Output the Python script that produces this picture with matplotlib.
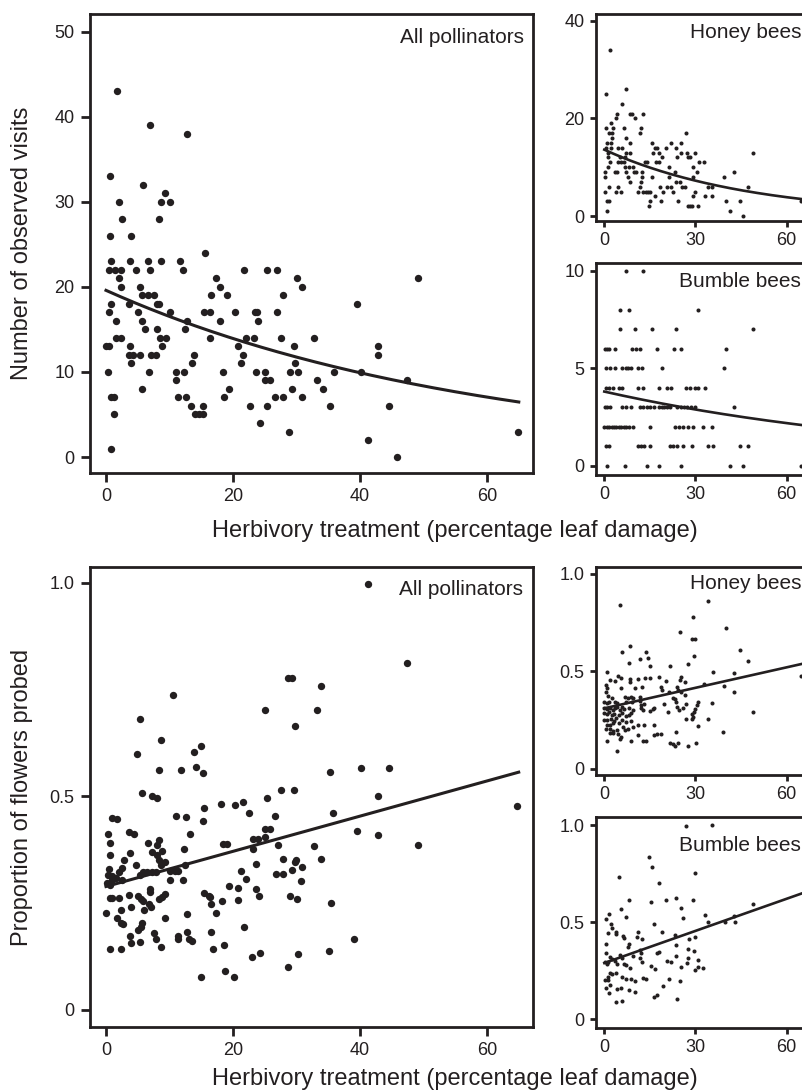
import numpy as np
import matplotlib
matplotlib.use("Agg")
import matplotlib.pyplot as plt

plt.rcParams['font.family'] = ['Liberation Sans', 'DejaVu Sans']

INK = '#231f20'

# ---------------- DATA ----------------
# Top-left: all pollinators, number of observed visits
visits_all_x = [1.8, 7.0, 12.8, 0.6, 5.8, 9.3, 2.0, 8.6, 10.0, 2.5, 8.3, 0.6, 4.0, 15.6,
                0.8, 3.8, 6.6, 8.6, 11.7,
                0.4, 1.4, 2.4, 4.7, 7.0, 12.1, 21.8, 25.4, 26.9,
                2.0, 17.3, 30.1, 49.1,
                2.3, 5.4, 18.0, 30.8,
                5.7, 6.6, 7.6, 16.5, 19.0, 27.8,
                0.8, 3.6, 8.0, 8.4, 39.6,
                0.5, 5.0, 10.0, 15.5, 16.4, 20.3, 23.4, 23.8, 27.0,
                1.6, 5.7, 12.8, 18.0, 24.0,
                6.1, 8.0, 12.4,
                1.6, 2.4, 8.5, 9.4, 16.3, 22.0, 23.3, 27.6, 32.8,
                0.0, 0.4, 3.8, 8.8, 20.8, 29.6, 42.8,
                3.6, 4.3, 5.3, 7.1, 7.9, 13.8, 21.5, 42.8,
                4.0, 13.5, 21.3, 29.8,
                0.3, 6.8, 11.0, 12.3, 18.4, 23.6, 25.1, 28.9, 30.2, 35.9, 40.1,
                11.0, 25.1, 25.8, 33.3, 47.4,
                5.7, 19.3, 29.3, 34.1,
                0.8, 1.3, 11.3, 12.6, 18.6, 26.6, 27.8, 30.8,
                13.4, 15.3, 22.6, 25.4, 35.3, 44.6,
                1.3, 14.0, 14.6, 15.2,
                24.3, 28.8, 64.8, 41.3, 0.8, 45.8]
visits_all_y = [43, 39, 38, 33, 32, 31, 30, 30, 30, 28, 28, 26, 26, 24,
                23, 23, 23, 23, 23,
                22, 22, 22, 22, 22, 22, 22, 22, 22,
                21, 21, 21, 21,
                20, 20, 20, 20,
                19, 19, 19, 19, 19, 19,
                18, 18, 18, 18, 18,
                17, 17, 17, 17, 17, 17, 17, 17, 17,
                16, 16, 16, 16, 16,
                15, 15, 15,
                14, 14, 14, 14, 14, 14, 14, 14, 14,
                13, 13, 13, 13, 13, 13, 13,
                12, 12, 12, 12, 12, 12, 12, 12,
                11, 11, 11, 11,
                10, 10, 10, 10, 10, 10, 10, 10, 10, 10, 10,
                9, 9, 9, 9, 9,
                8, 8, 8, 8,
                7, 7, 7, 7, 7, 7, 7, 7,
                6, 6, 6, 6, 6, 6,
                5, 5, 5, 5,
                4, 3, 3, 2, 1, 0]

# Top-right upper: honey bees visits
visits_honey_x = [1.9, 0.5, 7.0, 5.8,
                  4.1, 8.3, 9.1, 12.8, 3.7, 10.1, 2.1,
                  0.5, 3.0, 6.5, 12.2, 1.6, 2.4, 11.6, 26.9, 2.6, 7.0,
                  1.0, 2.2, 8.3, 15.6, 21.9, 25.4,
                  0.4, 2.2, 4.6, 5.8, 16.7, 17.3, 20.3, 23.7,
                  1.3, 7.3, 8.3, 16.1, 18.1, 25.4, 27.1, 30.0, 49.0,
                  1.3, 5.3, 6.9, 19.1, 24.0, 27.6, 28.2,
                  1.8, 4.6, 5.5, 6.5, 13.3, 14.0, 16.9, 18.0, 31.3, 32.8,
                  1.3, 6.9, 8.1, 9.3, 21.4, 29.3,
                  0.2, 3.5, 4.2, 7.2, 9.8, 10.4, 12.3, 23.4, 30.6, 42.7,
                  0.2, 7.9, 12.5, 15.6, 21.2, 29.1, 39.5,
                  8.4, 12.2, 23.5, 24.9,
                  1.4, 4.4, 11.7, 18.3, 20.7, 22.1, 25.7, 26.5, 34.0, 35.5, 47.4,
                  0.3, 3.7, 5.5, 11.0, 12.6, 13.6, 14.5, 15.2, 19.3, 22.5, 29.7,
                  16.8, 29.3, 33.3, 35.5,
                  0.9, 1.5, 15.2, 18.5, 24.2, 40.0, 44.6, 64.6,
                  14.8, 27.5, 28.2, 28.9, 30.7,
                  0.8, 41.3, 45.6]
visits_honey_y = [34, 25, 26, 23,
                  21, 21, 21, 21, 20, 20, 19,
                  18, 18, 18, 18, 17, 17, 17, 17, 16, 16,
                  15, 15, 15, 15, 15, 15,
                  14, 14, 14, 14, 14, 14, 14, 14,
                  13, 13, 13, 13, 13, 13, 13, 13, 13,
                  12, 12, 12, 12, 12, 12, 12,
                  11, 11, 11, 11, 11, 11, 11, 11, 11, 11,
                  10, 10, 10, 10, 10, 10,
                  9, 9, 9, 9, 9, 9, 9, 9, 9, 9,
                  8, 8, 8, 8, 8, 8, 8,
                  7, 7, 7, 7,
                  6, 6, 6, 6, 6, 6, 6, 6, 6, 6, 6,
                  5, 5, 5, 5, 5, 5, 5, 5, 5, 5, 5,
                  4, 4, 4, 4,
                  3, 3, 3, 3, 3, 3, 3, 3,
                  2, 2, 2, 2, 2,
                  1, 1, 0]

# Top-right lower: bumble bees visits
visits_bumble_x = [7.1, 12.7,
                   5.3, 8.2, 30.7,
                   5.3, 10.1, 15.6, 23.5, 49.0,
                   0.3, 1.0, 1.7, 3.5, 9.1, 10.4, 11.7, 17.3, 22.9, 25.3, 40.0,
                   0.4, 1.9, 3.5, 5.8, 7.1, 7.9, 8.7, 11.0, 12.3, 19.1, 39.5,
                   0.5, 1.6, 2.7, 4.7, 5.8, 11.0, 12.7, 18.1, 20.5, 22.1, 26.9, 28.2,
                   29.8, 30.9, 33.2,
                   0.2, 1.0, 1.8, 5.7, 7.1, 8.7, 11.7, 12.8, 14.1, 15.2, 16.4,
                   18.1, 19.0, 19.8, 20.7, 21.6, 24.0, 25.1, 26.2, 27.3, 28.4, 29.8, 42.7,
                   0.0, 0.8, 1.6, 2.4, 3.2, 4.0, 4.8, 5.6, 6.4, 7.2, 8.0, 9.3,
                   15.2, 23.2, 24.6, 26.0, 27.6, 29.3, 32.6, 35.3,
                   0.4, 1.4, 11.0, 12.1, 13.2, 15.2, 21.6, 22.7, 24.0, 26.0, 28.9,
                   34.0, 35.9, 44.6, 47.4,
                   0.9, 6.9, 14.1, 18.1, 25.3, 41.3, 45.6, 64.6]
visits_bumble_y = [10, 10,
                   8, 8, 8,
                   7, 7, 7, 7, 7,
                   6, 6, 6, 6, 6, 6, 6, 6, 6, 6, 6,
                   5, 5, 5, 5, 5, 5, 5, 5, 5, 5, 5,
                   4, 4, 4, 4, 4, 4, 4, 4, 4, 4, 4, 4,
                   4, 4, 4,
                   3, 3, 3, 3, 3, 3, 3, 3, 3, 3, 3,
                   3, 3, 3, 3, 3, 3, 3, 3, 3, 3, 3, 3,
                   2, 2, 2, 2, 2, 2, 2, 2, 2, 2, 2, 2,
                   2, 2, 2, 2, 2, 2, 2, 2,
                   1, 1, 1, 1, 1, 1, 1, 1, 1, 1, 1,
                   1, 1, 1, 1,
                   0, 0, 0, 0, 0, 0, 0, 0]

# Bottom-left: all pollinators, proportion of flowers probed
prop_all_x = [28.6, 29.3, 33.9, 10.6, 25.1, 33.3, 29.8, 5.4, 8.6, 4.9, 13.8, 14.9,
              8.3, 11.8, 14.1, 15.3, 5.7, 7.2, 8.0, 27.6, 29.6, 25.3,
              15.5, 18.1, 20.3, 21.6, 22.6, 0.9, 1.8, 11.1, 12.6, 15.3, 26.6,
              0.3, 3.7, 4.4, 13.3, 25.1, 25.8, 23.2, 23.9, 25.1,
              0.7, 6.6, 8.3, 8.1, 18.4, 19.0, 27.1, 32.8,
              12.3, 8.8, 7.3, 23.2,
              0.7, 3.8, 8.0, 8.3, 2.8, 9.3, 8.6, 27.8, 30.0, 29.8, 33.8,
              4.7, 23.6, 0.5, 2.5, 2.0, 5.9, 6.5, 7.2, 5.4, 7.8,
              10.1, 10.8, 11.4, 12.4, 30.8, 29.3, 21.3, 26.8, 27.8,
              0.3, 1.0, 1.5, 2.5, 0.1, 0.6, 1.0,
              10.1, 12.1, 22.0, 30.7, 19.3, 20.8, 23.6, 7.0, 6.9,
              0.6, 1.0, 2.0, 3.6, 5.1, 5.5, 5.9, 8.3, 9.3, 8.8, 6.7, 7.1,
              15.5, 16.2, 16.4, 18.2, 16.6, 20.8, 24.1, 29.0, 30.1,
              4.0, 2.4, 6.0, 0.0, 12.8, 17.3, 1.7, 2.3, 2.6, 9.3,
              5.7, 5.5, 5.1, 21.8, 12.8, 16.5, 7.5, 7.8, 3.8, 4.0, 5.4,
              11.3, 11.3, 13.0, 13.6, 8.6, 0.6, 2.3, 16.8, 18.6,
              23.0, 24.3, 30.3, 28.6, 18.7, 15.0, 20.1,
              41.3, 47.4, 35.3, 40.1, 44.6, 42.8, 35.8, 39.6, 42.8, 64.8, 49.1,
              35.5, 39.1, 35.1]
prop_all_y = [0.777, 0.777, 0.758, 0.737, 0.702, 0.702, 0.666, 0.681, 0.632, 0.600, 0.605, 0.619,
              0.562, 0.562, 0.568, 0.556, 0.507, 0.501, 0.496, 0.514, 0.515, 0.496,
              0.473, 0.482, 0.480, 0.486, 0.462, 0.450, 0.446, 0.455, 0.452, 0.443, 0.455,
              0.413, 0.416, 0.412, 0.411, 0.423, 0.423, 0.400, 0.400, 0.406,
              0.390, 0.392, 0.397, 0.386, 0.389, 0.389, 0.386, 0.385,
              0.378, 0.372, 0.369, 0.378,
              0.363, 0.367, 0.363, 0.351, 0.352, 0.347, 0.340, 0.353, 0.350, 0.346, 0.353,
              0.339, 0.342, 0.330, 0.333, 0.322, 0.324, 0.324, 0.324, 0.315, 0.324,
              0.325, 0.325, 0.325, 0.340, 0.334, 0.328, 0.326, 0.319, 0.319,
              0.316, 0.314, 0.309, 0.304, 0.297, 0.293, 0.304,
              0.304, 0.304, 0.306, 0.302, 0.290, 0.285, 0.283, 0.284, 0.277,
              0.261, 0.262, 0.263, 0.269, 0.267, 0.260, 0.256, 0.260, 0.271, 0.265, 0.249, 0.242,
              0.273, 0.267, 0.264, 0.255, 0.249, 0.258, 0.266, 0.267, 0.260,
              0.240, 0.234, 0.234, 0.226, 0.224, 0.228, 0.215, 0.203, 0.201, 0.215,
              0.203, 0.195, 0.187, 0.194, 0.183, 0.182, 0.180, 0.166, 0.172, 0.156, 0.158,
              0.172, 0.166, 0.167, 0.161, 0.147, 0.142, 0.142, 0.142, 0.151,
              0.125, 0.133, 0.132, 0.100, 0.091, 0.076, 0.076,
              0.998, 0.813, 0.557, 0.566, 0.566, 0.502, 0.462, 0.420, 0.409, 0.478, 0.387,
              0.250, 0.166, 0.139]

# Bottom-right upper: honey bees proportion
prop_honey_x = [5.3, 34.0, 29.3, 40.0, 25.0, 28.7, 29.8, 8.4, 44.5, 5.7, 13.7, 14.3, 11.8, 29.5,
                47.4, 8.1, 15.2, 21.6, 27.5, 1.0, 35.7, 42.7,
                4.5, 1.9, 3.5, 5.5, 8.6, 8.6, 11.0, 13.5, 15.2, 18.0, 20.3, 25.2, 24.9, 26.6,
                32.9, 39.5, 64.7, 0.5, 0.8, 0.4, 5.5, 10.0, 12.4, 18.5, 19.1, 23.8, 24.3, 25.3, 42.7,
                1.3, 2.6, 6.8, 7.9, 8.7, 9.3, 11.7, 11.7, 21.3, 23.2, 22.7, 26.5,
                0.0, 0.8, 1.6, 3.5, 4.3, 7.3, 9.1, 12.0, 13.0, 19.6, 23.6, 24.0, 26.9, 30.7, 30.6, 35.3,
                0.0, 0.8, 1.9, 2.7, 3.5, 4.3, 5.2, 5.9, 6.6, 8.1, 9.3, 12.2, 12.6,
                15.0, 16.1, 16.4, 21.1, 24.6, 26.0, 29.8, 29.6, 49.0,
                0.0, 0.8, 1.6, 2.4, 3.2, 4.9, 5.7, 7.3, 8.1, 8.8, 28.9, 29.3, 28.9,
                0.0, 1.0, 2.1, 3.2, 3.8, 5.9, 7.3, 8.7, 27.0, 34.0,
                0.8, 1.9, 3.0, 4.9, 6.3, 11.2, 13.0, 16.4, 30.7,
                0.5, 1.9, 3.0, 4.1, 6.8, 7.9, 9.3, 1.9, 3.0, 4.6, 5.5, 11.2,
                16.4, 17.2, 18.5, 23.5, 38.9,
                0.8, 5.2, 8.7, 12.8, 13.6, 21.6, 22.5, 23.2, 24.3, 27.6, 30.2, 4.1]
prop_honey_y = [0.841, 0.860, 0.778, 0.723, 0.701, 0.665, 0.665, 0.632, 0.609, 0.598, 0.598, 0.568, 0.562, 0.579,
                0.554, 0.544, 0.526, 0.528, 0.538, 0.496, 0.496, 0.491,
                0.477, 0.458, 0.451, 0.465, 0.460, 0.448, 0.460, 0.465, 0.465, 0.470, 0.453, 0.470, 0.456, 0.444,
                0.436, 0.427, 0.477, 0.431, 0.414, 0.397, 0.415, 0.414, 0.421, 0.421, 0.405, 0.422, 0.405, 0.397, 0.397,
                0.373, 0.366, 0.371, 0.366, 0.371, 0.362, 0.371, 0.350, 0.397, 0.359, 0.366, 0.379,
                0.345, 0.337, 0.342, 0.345, 0.337, 0.342, 0.345, 0.328, 0.333, 0.333, 0.345, 0.320, 0.333, 0.345, 0.328, 0.337,
                0.311, 0.306, 0.315, 0.303, 0.311, 0.318, 0.304, 0.316, 0.308, 0.311, 0.303, 0.311, 0.303,
                0.299, 0.306, 0.313, 0.294, 0.303, 0.315, 0.308, 0.294, 0.294,
                0.285, 0.280, 0.291, 0.277, 0.282, 0.277, 0.285, 0.272, 0.277, 0.285, 0.280, 0.268, 0.256,
                0.251, 0.251, 0.256, 0.248, 0.260, 0.251, 0.243, 0.248, 0.256, 0.256,
                0.226, 0.226, 0.234, 0.234, 0.217, 0.226, 0.226, 0.226, 0.222,
                0.205, 0.205, 0.197, 0.200, 0.200, 0.205, 0.214, 0.183, 0.183, 0.179, 0.166, 0.174,
                0.174, 0.179, 0.178, 0.191, 0.188,
                0.144, 0.154, 0.145, 0.144, 0.145, 0.135, 0.128, 0.120, 0.135, 0.118, 0.135, 0.094]

# Bottom-right lower: bumble bees proportion
prop_bumble_x = [27.0, 35.3, 14.8, 15.6, 4.7, 29.8, 18.0, 23.6, 8.1, 15.4, 20.3, 29.2,
                 5.4, 25.3, 49.0, 1.5, 0.4, 7.3, 26.0, 33.2, 34.0, 39.6, 42.7, 42.9,
                 2.1, 1.3, 2.4, 3.8, 3.8, 11.0, 16.2, 19.1, 6.0, 6.6, 10.9, 12.3, 23.4, 28.0, 29.9,
                 0.5, 8.2, 7.7, 23.6, 0.5, 11.8, 12.1, 17.2, 18.0, 27.5, 29.5,
                 1.9, 2.4, 5.2, 5.7, 9.3, 11.7, 12.3, 23.7, 27.7, 30.8,
                 0.2, 0.8, 1.3, 3.5, 4.3, 6.5, 7.2, 8.3, 20.7, 21.9, 15.4, 16.7, 27.2, 25.1, 30.7, 30.0, 32.6,
                 1.9, 1.3, 2.4, 3.8, 5.9, 7.0, 8.8, 10.1, 0.2, 1.3, 12.8, 13.6, 21.3, 24.9,
                 1.9, 0.5, 4.3, 5.5, 8.1, 10.1, 19.4, 17.4, 16.3, 1.6, 3.8, 5.8, 24.0]
prop_bumble_y = [0.995, 1.000, 0.834, 0.786, 0.732, 0.751, 0.700, 0.624, 0.612, 0.602, 0.612, 0.612,
                 0.568, 0.575, 0.592, 0.544, 0.516, 0.527, 0.523, 0.535, 0.499, 0.499, 0.532, 0.499,
                 0.492, 0.443, 0.472, 0.451, 0.437, 0.451, 0.492, 0.448, 0.429, 0.420, 0.425, 0.415, 0.434, 0.415, 0.424,
                 0.386, 0.388, 0.372, 0.383, 0.343, 0.357, 0.343, 0.340, 0.348, 0.362, 0.350,
                 0.322, 0.312, 0.331, 0.314, 0.326, 0.317, 0.297, 0.326, 0.314, 0.305,
                 0.297, 0.285, 0.293, 0.302, 0.283, 0.285, 0.280, 0.264, 0.300, 0.297, 0.276, 0.261, 0.288, 0.271, 0.271, 0.254, 0.262,
                 0.240, 0.220, 0.232, 0.240, 0.216, 0.206, 0.206, 0.199, 0.202, 0.202, 0.211, 0.206, 0.208, 0.199,
                 0.175, 0.163, 0.156, 0.163, 0.151, 0.142, 0.172, 0.125, 0.117, 0.134, 0.089, 0.093, 0.103]

# Fitted model coefficients
# count panels: y = a * exp(b * x);  proportion panels: y = a + b * x
fit_visits_all = (19.6, -0.01705)
fit_visits_honey = (13.6, -0.0210)
fit_visits_bumble = (3.8, -0.00925)
fit_prop_all = (0.289, 0.00412)
fit_prop_honey = (0.311, 0.00350)
fit_prop_bumble = (0.290, 0.00551)
fit_x_range = (0.0, 65.0)

main_xticks = [0, 20, 40, 60]
small_xticks = [0, 30, 60]
visits_all_yticks = [0, 10, 20, 30, 40, 50]
visits_honey_yticks = [0, 20, 40]
visits_bumble_yticks = [0, 5, 10]
prop_yticks = [0, 0.5, 1.0]
prop_yticklabels = ['0', '0.5', '1.0']

# ---------------- LAYOUT ----------------
W, H = 802, 1092
fig = plt.figure(figsize=(W / 100, H / 100), dpi=100)

TICK_FS = 13
PANEL_FS = 15
AXIS_FS = 17


def rect(l, t, r, b):
    return [l / W, 1 - b / H, (r - l) / W, (b - t) / H]


def style(ax, small):
    for s in ax.spines.values():
        s.set_linewidth(2.0)
        s.set_color(INK)
    ax.tick_params(axis='both', which='major', direction='out',
                   length=(4.5 if small else 6.5), width=2.0, color=INK,
                   labelsize=TICK_FS, labelcolor=INK, pad=(3.5 if small else 4))
    ax.tick_params(axis='y', pad=(3.5 if small else 4.5))
    ax.tick_params(top=False, right=False)


def label(ax, txt, top_px, bottom_px, base_px, right_frac):
    yf = (bottom_px - base_px) / (bottom_px - top_px)
    ax.text(right_frac, yf, txt, transform=ax.transAxes, ha='right', va='baseline',
            fontsize=PANEL_FS, color=INK)


xs_fit = np.linspace(fit_x_range[0], fit_x_range[1], 200)

# Top main
ax1 = fig.add_axes(rect(90, 14, 533, 473))
ax1.scatter(visits_all_x, visits_all_y, s=28, color=INK, linewidths=0, zorder=3)
ax1.plot(xs_fit, fit_visits_all[0] * np.exp(fit_visits_all[1] * xs_fit), color=INK, lw=2.2, zorder=4)
ax1.set_xlim(-2.52, 67.24)
ax1.set_ylim(-1.88, 52.1)
ax1.set_xticks(main_xticks)
ax1.set_yticks(visits_all_yticks)
style(ax1, False)
label(ax1, 'All pollinators', 14, 473, 43.0, 0.98)

# Top honey
ax2 = fig.add_axes(rect(595.7, 14, 808.5, 220.7))
ax2.scatter(visits_honey_x, visits_honey_y, s=8.5, color=INK, linewidths=0, zorder=3)
ax2.plot(xs_fit, fit_visits_honey[0] * np.exp(fit_visits_honey[1] * xs_fit), color=INK, lw=1.9, zorder=4)
ax2.set_xlim(-2.83, 67.2)
ax2.set_ylim(-0.96, 41.4)
ax2.set_xticks(small_xticks)
ax2.set_yticks(visits_honey_yticks)
style(ax2, True)
label(ax2, 'Honey bees', 14, 220.7, 38.3, 0.965)

# Top bumble
ax3 = fig.add_axes(rect(595.7, 263.3, 808.5, 475))
ax3.scatter(visits_bumble_x, visits_bumble_y, s=8.5, color=INK, linewidths=0, zorder=3)
ax3.plot(xs_fit, fit_visits_bumble[0] * np.exp(fit_visits_bumble[1] * xs_fit), color=INK, lw=1.9, zorder=4)
ax3.set_xlim(-2.83, 67.2)
ax3.set_ylim(-0.48, 10.38)
ax3.set_xticks(small_xticks)
ax3.set_yticks(visits_bumble_yticks)
style(ax3, True)
label(ax3, 'Bumble bees', 263.3, 475, 287.3, 0.965)

# Bottom main
ax4 = fig.add_axes(rect(90, 566.7, 533.3, 1027))
ax4.scatter(prop_all_x, prop_all_y, s=28, color=INK, linewidths=0, zorder=3)
ax4.plot(xs_fit, fit_prop_all[0] + fit_prop_all[1] * xs_fit, color=INK, lw=2.2, zorder=4)
ax4.set_xlim(-2.52, 67.3)
ax4.set_ylim(-0.04, 1.038)
ax4.set_xticks(main_xticks)
ax4.set_yticks(prop_yticks)
ax4.set_yticklabels(prop_yticklabels)
style(ax4, False)
label(ax4, 'All pollinators', 566.7, 1027, 595.0, 0.977)

# Bottom honey
ax5 = fig.add_axes(rect(595.7, 566.7, 808.5, 775))
ax5.scatter(prop_honey_x, prop_honey_y, s=8.5, color=INK, linewidths=0, zorder=3)
ax5.plot(xs_fit, fit_prop_honey[0] + fit_prop_honey[1] * xs_fit, color=INK, lw=1.9, zorder=4)
ax5.set_xlim(-2.83, 67.2)
ax5.set_ylim(-0.031, 1.037)
ax5.set_xticks(small_xticks)
ax5.set_yticks(prop_yticks)
ax5.set_yticklabels(prop_yticklabels)
style(ax5, True)
label(ax5, 'Honey bees', 566.7, 775, 589.3, 0.965)

# Bottom bumble
ax6 = fig.add_axes(rect(595.7, 816.7, 808.5, 1028.3))
ax6.scatter(prop_bumble_x, prop_bumble_y, s=8.5, color=INK, linewidths=0, zorder=3)
ax6.plot(xs_fit, fit_prop_bumble[0] + fit_prop_bumble[1] * xs_fit, color=INK, lw=1.9, zorder=4)
ax6.set_xlim(-2.83, 67.2)
ax6.set_ylim(-0.046, 1.043)
ax6.set_xticks(small_xticks)
ax6.set_yticks(prop_yticks)
ax6.set_yticklabels(prop_yticklabels)
style(ax6, True)
label(ax6, 'Bumble bees', 816.7, 1028.3, 851.0, 0.965)

# Axis titles
xlab = 'Herbivory treatment (percentage leaf damage)'
fig.text(455 / W, 1 - 537 / H, xlab, ha='center', va='baseline', fontsize=AXIS_FS, color=INK)
fig.text(455 / W, 1 - 1085 / H, xlab, ha='center', va='baseline', fontsize=AXIS_FS, color=INK)
fig.text(22 / W, 1 - 243.5 / H, 'Number of observed visits', rotation=90,
         ha='center', va='center', fontsize=AXIS_FS, color=INK)
fig.text(22 / W, 1 - 797 / H, 'Proportion of flowers probed', rotation=90,
         ha='center', va='center', fontsize=AXIS_FS, color=INK)

fig.savefig('out.png', dpi=100)
